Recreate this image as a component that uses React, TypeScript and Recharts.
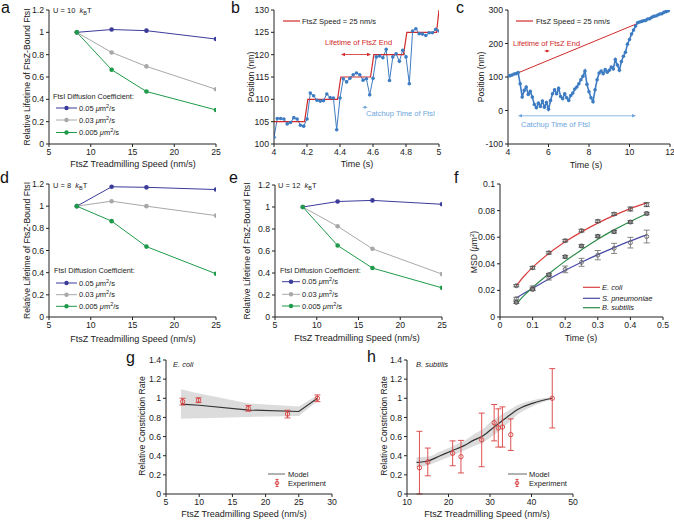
import React from 'react';
import { ComposedChart, Line, Area, Scatter, ErrorBar, XAxis, YAxis } from 'recharts';

// a, d, e: relative lifetime of FtsZ-bound FtsI vs treadmilling speed
const speeds = [8.33, 12.5, 16.67, 25];
const aFast = [1, 1.025, 1.015, 0.94];
const aMid = [1, 0.82, 0.695, 0.49];
const aSlow = [1, 0.665, 0.47, 0.305];
const dFast = [1, 1.175, 1.17, 1.15];
const dMid = [1, 1.045, 1.0, 0.915];
const dSlow = [1, 0.865, 0.635, 0.39];
const eFast = [1, 1.05, 1.06, 1.025];
const eMid = [1, 0.825, 0.62, 0.39];
const eSlow = [1, 0.65, 0.445, 0.265];
const lifeTicksX = [5, 10, 15, 20, 25];
const lifeTicksY = [0, 0.2, 0.4, 0.6, 0.8, 1, 1.2];

// b: FtsI trace vs FtsZ end, 4-5 s
const bTimes = [4.0, 4.02, 4.04, 4.06, 4.08, 4.1, 4.12, 4.14, 4.16, 4.18, 4.2, 4.22, 4.24, 4.26, 4.28, 4.3, 4.32, 4.34, 4.36, 4.38,
  4.4, 4.42, 4.44, 4.46, 4.48, 4.5, 4.52, 4.54, 4.56, 4.58, 4.6, 4.62, 4.64, 4.66, 4.68, 4.7, 4.72, 4.74, 4.76, 4.78,
  4.8, 4.82, 4.84, 4.86, 4.88, 4.9, 4.92, 4.94, 4.96, 4.98, 5.0];
const bPos = [101.5, 105.7, 105.7, 105.6, 104.5, 104.8, 105.9, 105.6, 104.2, 104.0, 105.6, 111.4, 110.8, 109.8, 109.6, 109.7, 111.2, 110.4, 110.3, 103.2,
  110.3, 114.6, 113.9, 114.7, 115.5, 115.9, 115.5, 114.3, 114.6, 111.0, 114.7, 119.5, 119.7, 119.3, 121.2, 114.2, 119.5, 120.2, 118.5, 121.0,
  119.5, 113.5, 125.3, 125.8, 124.7, 124.6, 124.3, 124.9, 124.9, 125.7, 125.3];
const bEndTimes = [4, 4.185, 4.205, 4.385, 4.405, 4.585, 4.605, 4.785, 4.805, 4.985, 5.0];
const bEndPos = [105, 105, 110, 110, 115, 115, 120, 120, 125, 125, 130];

// c: FtsI trace vs FtsZ end, 4-12 s
const cTimes = [4.0, 4.1, 4.2, 4.3, 4.4, 4.5, 4.6, 4.7, 4.8, 4.9, 5.0, 5.1, 5.2, 5.3, 5.4, 5.5, 5.6, 5.7, 5.8, 5.9,
  6.0, 6.1, 6.2, 6.3, 6.4, 6.5, 6.6, 6.7, 6.8, 6.9, 7.0, 7.1, 7.2, 7.3, 7.4, 7.5, 7.6, 7.7, 7.8, 7.9,
  8.0, 8.1, 8.2, 8.3, 8.4, 8.5, 8.6, 8.7, 8.8, 8.9, 9.0, 9.1, 9.2, 9.3, 9.4, 9.5, 9.6, 9.7, 9.8, 9.9,
  10.0, 10.1, 10.2, 10.3, 10.4, 10.5, 10.6, 10.7, 10.8, 10.9, 11.0, 11.1, 11.2, 11.3, 11.4, 11.5, 11.6, 11.7, 11.8, 11.9, 12.0];
const cPos = [102, 104, 106, 109, 110, 113, 80, 40, 60, 70, 48, 57, 40, 18, 8, 22, 12, 28, 10, 24,
  4, 30, 50, 62, 50, 66, 42, 35, 50, 38, 30, 45, 52, 64, 70, 80, 92, 102, 118, 78,
  56, 38, 26, 62, 92, 112, 118, 110, 122, 114, 120, 130, 124, 152, 136, 120, 146, 162, 174, 198,
  212, 228, 240, 252, 262, 264, 266, 268, 269, 273, 274, 278, 281, 282, 285, 288, 289, 293, 295, 297, 300];
const cEndTimes = [4, 12];
const cEndPos = [100, 300];

// f: MSD
const fTimes = [0.05, 0.1, 0.15, 0.2, 0.25, 0.3, 0.35, 0.4, 0.45];
const fEcoli = [0.0235, 0.037, 0.0483, 0.0574, 0.0649, 0.072, 0.0774, 0.0812, 0.0845];
const fEcoliErr = [0.0008, 0.001, 0.001, 0.001, 0.001, 0.001, 0.001, 0.0015, 0.0015];
const fSpn = [0.0138, 0.0218, 0.0296, 0.0358, 0.0411, 0.0465, 0.0516, 0.0559, 0.0605];
const fSpnErr = [0.001, 0.0015, 0.0018, 0.0025, 0.003, 0.0035, 0.0038, 0.004, 0.0048];
const fBsub = [0.011, 0.0208, 0.0318, 0.0453, 0.0534, 0.0607, 0.0641, 0.0714, 0.0778];
const fBsubErr = [0.0008, 0.001, 0.001, 0.001, 0.001, 0.001, 0.001, 0.001, 0.001];
const fFitTimes = [0.05, 0.075, 0.1, 0.15, 0.2, 0.25, 0.3, 0.35, 0.4, 0.45];
const fFitEcoli = [0.0235, 0.031, 0.0373, 0.0478, 0.0565, 0.064, 0.0706, 0.0764, 0.0815, 0.0858];
const fFitSpn = [0.0142, 0.018, 0.0215, 0.0285, 0.0351, 0.0412, 0.0469, 0.0522, 0.0572, 0.0618];
const fFitBsub = [0.0098, 0.0165, 0.0222, 0.0325, 0.042, 0.0505, 0.0585, 0.0655, 0.0718, 0.0776];

// g: E. coli constriction rate
const gModelSpeed = [7.25, 10, 17.5, 25, 27.8];
const gModel = [0.94, 0.927, 0.877, 0.862, 1.0];
const gModelLo = [0.785, 0.792, 0.805, 0.815, 0.968];
const gModelHi = [1.095, 1.05, 0.945, 0.915, 1.032];
const gExpSpeed = [7.5, 9.9, 17.4, 23.3, 27.8];
const gExp = [0.965, 0.98, 0.895, 0.835, 1.0];
const gExpErr = [0.035, 0.025, 0.03, 0.04, 0.035];

// h: B. subtilis constriction rate
const hModelSpeed = [12.3, 15, 18, 21, 23.5, 26, 28, 30.7, 34, 37, 40.4, 45];
const hModel = [0.33, 0.345, 0.4, 0.455, 0.5, 0.56, 0.6, 0.69, 0.8, 0.89, 0.95, 1.0];
const hModelLo = [0.28, 0.3, 0.35, 0.405, 0.45, 0.5, 0.53, 0.61, 0.73, 0.84, 0.92, 0.99];
const hModelHi = [0.385, 0.39, 0.445, 0.5, 0.55, 0.62, 0.67, 0.77, 0.86, 0.935, 0.98, 1.01];
const hExpSpeed = [13, 15, 21, 23, 28, 31, 32, 33, 35, 45];
const hExp = [0.275, 0.335, 0.425, 0.39, 0.565, 0.745, 0.69, 0.7, 0.62, 1.0];
const hExpErrLo = [0.275, 0.145, 0.13, 0.17, 0.28, 0.19, 0.2, 0.21, 0.165, 0.31];
const hExpErrHi = [0.38, 0.145, 0.13, 0.17, 0.28, 0.19, 0.2, 0.21, 0.165, 0.31];
const rateTicksY = [0, 0.2, 0.4, 0.6, 0.8, 1, 1.2, 1.4];

const FONT = "'Liberation Sans', Arial, Helvetica, sans-serif";
const INK = '#222';
const BLUE = '#3b3b9a';
const GRAY = '#a8a8a8';
const GREEN = '#1f9a4a';
const RED = '#d02a2a';
const TRACE = '#3d7cc2';
const LIGHT = '#6ea5dc';
const FRED = '#d94040';
const FBLUE = '#4848a8';
const FGREEN = '#2a8a48';

const YW = 34;
const XH = 24;
const MT = 8;

const axis = {
  axisLine: { stroke: INK, strokeWidth: 1 },
  tickLine: { stroke: INK, strokeWidth: 1 },
  tickSize: 3,
  tick: { fontSize: 8.7, fill: INK },
  interval: 0 as const,
  allowDataOverflow: true,
};

const pts = (xs: number[], ys: number[]) => xs.map((x, i) => ({ x, y: ys[i] }));
const ptsErr = (xs: number[], ys: number[], es: any[]) => xs.map((x, i) => ({ x, y: ys[i], err: es[i] }));

function Panel({ box, data, xDomain, xTicks, yDomain, yTicks, right = 10, children }: any) {
  const [x0, y0, x1, y1] = box;
  const width = x1 - x0 + YW + right;
  const height = y1 - y0 + MT + XH;
  return (
    <div style={{ position: 'absolute', left: x0 - YW, top: y0 - MT }}>
      <ComposedChart width={width} height={height} data={data} margin={{ top: MT, right, left: 0, bottom: 0 }}>
        <XAxis type="number" dataKey="x" domain={xDomain} ticks={xTicks} height={XH} {...axis} />
        <YAxis type="number" domain={yDomain} ticks={yTicks} width={YW} {...axis} />
        {children}
      </ComposedChart>
    </div>
  );
}

function LifetimePanel({ box, fast, mid, slow }: any) {
  const data = speeds.map((x, i) => ({ x, fast: fast[i], mid: mid[i], slow: slow[i] }));
  const line = (key: string, c: string) => (
    <Line key={key} type="linear" dataKey={key} stroke={c} strokeWidth={1}
      dot={{ r: 2.3, fill: c, stroke: c, strokeWidth: 0 }} isAnimationActive={false} />
  );
  return (
    <Panel box={box} data={data} xDomain={[5, 25]} xTicks={lifeTicksX} yDomain={[0, 1.2]} yTicks={lifeTicksY}>
      {line('fast', BLUE)}
      {line('mid', GRAY)}
      {line('slow', GREEN)}
    </Panel>
  );
}

const circleShape = (stroke: string, fill = 'none', r = 2) => (p: any) => (
  <circle cx={p.cx} cy={p.cy} r={r} fill={fill} stroke={stroke} strokeWidth={0.9} />
);

function RatePanel({ box, xDomain, xTicks, mSpeed, model, lo, hi, eSpeed, exp, err, smooth }: any) {
  const data = mSpeed.map((x: number, i: number) => ({ x, y: model[i], band: [lo[i], hi[i]] }));
  return (
    <Panel box={box} data={data} xDomain={xDomain} xTicks={xTicks} yDomain={[0, 1.4]} yTicks={rateTicksY}>
      <Area type={smooth ? 'monotone' : 'linear'} dataKey="band" stroke="none" fill="#dcdcdc" fillOpacity={1} isAnimationActive={false} />
      <Line type={smooth ? 'monotone' : 'linear'} dataKey="y" stroke="#333" strokeWidth={1.2} dot={false} isAnimationActive={false} />
      <Scatter data={ptsErr(eSpeed, exp, err)} dataKey="y" shape={circleShape(FRED, 'none', 2.2)} isAnimationActive={false}>
        <ErrorBar dataKey="err" direction="y" width={3} stroke={FRED} strokeWidth={0.9} />
      </Scatter>
    </Panel>
  );
}

const Mu = ({ v }: { v: string }) => (
  <>
    {v + ' '}<tspan fontStyle="italic">μ</tspan>m<tspan dy={-3} fontSize={5.5}>2</tspan><tspan dy={3}>/s</tspan>
  </>
);

function KeyRows({ x0, x1, ys }: { x0: number; x1: number; ys: number[] }) {
  const rows = [
    { c: BLUE, v: '0.05' },
    { c: GRAY, v: '0.03' },
    { c: GREEN, v: '0.005' },
  ];
  return (
    <g>
      {rows.map((r, i) => (
        <g key={r.v}>
          <line x1={x0} x2={x1} y1={ys[i]} y2={ys[i]} stroke={r.c} strokeWidth={1} />
          <circle cx={(x0 + x1) / 2} cy={ys[i]} r={2.2} fill={r.c} />
          <text x={x1 + 2} y={ys[i] + 2.6} fontSize={7.5} fill={INK}><Mu v={r.v} /></text>
        </g>
      ))}
    </g>
  );
}

const Energy = ({ x, y, u }: { x: number; y: number; u: string }) => (
  <text x={x} y={y} fontSize={7.5} fill={INK} style={{ whiteSpace: 'pre' }}>
    {`U = ${u}  `}<tspan fontStyle="italic">k</tspan><tspan dy={2} fontSize={5.5}>B</tspan><tspan dy={-2}>T</tspan>
  </text>
);

function DArrow({ x0, x1, y, c, h = 1.8 }: any) {
  return (
    <g>
      <line x1={x0 + 2} x2={x1 - 2} y1={y} y2={y} stroke={c} strokeWidth={0.8} />
      <polygon points={`${x0},${y} ${x0 + 4},${y - h} ${x0 + 4},${y + h}`} fill={c} />
      <polygon points={`${x1},${y} ${x1 - 4},${y - h} ${x1 - 4},${y + h}`} fill={c} />
    </g>
  );
}

function YTitle({ x, y, text }: { x: number; y: number; text: React.ReactNode }) {
  return (
    <text x={x} y={y} fontSize={8.6} fill={INK} textAnchor="middle" transform={`rotate(-90 ${x} ${y})`}>{text}</text>
  );
}

function XTitle({ x, y, text }: { x: number; y: number; text: string }) {
  return <text x={x} y={y} fontSize={9} fill={INK} textAnchor="middle">{text}</text>;
}

function Overlay() {
  const life = 'Relative Lifetime of FtsZ-Bound FtsI';
  const speed = 'FtsZ Treadmilling Speed (nm/s)';
  return (
    <svg width={674} height={520} style={{ position: 'absolute', left: 0, top: 0, pointerEvents: 'none' }} fontFamily={FONT}>
      {/* panel letters */}
      <g fontSize={16} fill="#111">
        <text x={1} y={13}>a</text>
        <text x={231} y={13}>b</text>
        <text x={456} y={13}>c</text>
        <text x={0} y={183}>d</text>
        <text x={229} y={183}>e</text>
        <text x={454} y={183}>f</text>
        <text x={126} y={363}>g</text>
        <text x={367} y={362}>h</text>
      </g>

      {/* a */}
      <YTitle x={30} y={77} text={life} />
      <XTitle x={133} y={167} text={speed} />
      <Energy x={53} y={13} u="10" />
      <text x={53} y={99} fontSize={7.3} fill={INK}>FtsI Diffusion Coefficient:</text>
      <KeyRows x0={56} x1={77} ys={[108, 120, 132.5]} />

      {/* b */}
      <YTitle x={253.5} y={77} text="Position (nm)" />
      <XTitle x={357} y={166.5} text="Time (s)" />
      <line x1={283} x2={300} y1={21} y2={21} stroke={RED} strokeWidth={1.2} />
      <text x={302} y={23.6} fontSize={7.5} fill={INK}>FtsZ Speed = 25 nm/s</text>
      <text x={325} y={44.5} fontSize={7.5} fill={RED}>Lifetime of FtsZ End</text>
      <DArrow x0={341} x1={371} y={54.5} c={RED} />
      <DArrow x0={362} x1={368} y={107.3} c={LIGHT} h={1.2} />
      <text x={366} y={115.8} fontSize={7.5} fill={LIGHT}>Catchup Time of FtsI</text>

      {/* c */}
      <YTitle x={484} y={77} text="Position (nm)" />
      <XTitle x={586} y={167.5} text="Time (s)" />
      <line x1={516} x2={533} y1={21} y2={21} stroke={RED} strokeWidth={1.2} />
      <text x={536} y={23.6} fontSize={7.5} fill={INK}>FtsZ Speed = 25 nm/s</text>
      <text x={513} y={45.5} fontSize={7.5} fill={RED}>Lifetime of FtsZ End</text>
      <DArrow x0={544} x1={550} y={51} c={RED} h={1.2} />
      <DArrow x0={518} x1={636} y={115.8} c={LIGHT} />
      <text x={521} y={127} fontSize={7.5} fill={LIGHT}>Catchup Time of FtsI</text>

      {/* d */}
      <YTitle x={30} y={250.5} text={life} />
      <XTitle x={133} y={341.5} text={speed} />
      <Energy x={53} y={187.5} u="8" />
      <text x={54} y={272.5} fontSize={7.3} fill={INK}>FtsI Diffusion Coefficient:</text>
      <KeyRows x0={56} x1={77} ys={[283, 294.7, 306.3]} />

      {/* e */}
      <YTitle x={250} y={251} text={life} />
      <XTitle x={357} y={340.5} text={speed} />
      <Energy x={278} y={187.5} u="12" />
      <text x={280} y={272.5} fontSize={7.3} fill={INK}>FtsI Diffusion Coefficient:</text>
      <KeyRows x0={282} x1={300} ys={[281.7, 294.3, 306]} />

      {/* f */}
      <YTitle x={477} y={252} text={<>MSD (<tspan fontStyle="italic">μ</tspan>m<tspan dy={-3} fontSize={6}>2</tspan><tspan dy={3}>)</tspan></>} />
      <XTitle x={581} y={340.5} text="Time (s)" />
      {[
        { c: FRED, t: 'E. coli', y: 287.3 },
        { c: FBLUE, t: 'S. pneumoniae', y: 298.3 },
        { c: FGREEN, t: 'B. subtilis', y: 307.7 },
      ].map((r) => (
        <g key={r.t}>
          <line x1={583} x2={600} y1={r.y} y2={r.y} stroke={r.c} strokeWidth={1.2} />
          <text x={602} y={r.y + 2.6} fontSize={7.5} fontStyle="italic" fill={INK}>{r.t}</text>
        </g>
      ))}

      {/* g */}
      <YTitle x={145} y={426} text="Relative Constriction Rate" />
      <XTitle x={244} y={517} text={speed} />
      <text x={173} y={367} fontSize={7.5} fontStyle="italic" fill={INK}>E. coli</text>
      <line x1={268} x2={285} y1={474} y2={474} stroke="#999" strokeWidth={1.5} />
      <text x={288} y={476.6} fontSize={7.5} fill={INK}>Model</text>
      <line x1={277} x2={277} y1={479.5} y2={486.5} stroke={FRED} strokeWidth={0.9} />
      <line x1={275.5} x2={278.5} y1={479.5} y2={479.5} stroke={FRED} strokeWidth={0.9} />
      <line x1={275.5} x2={278.5} y1={486.5} y2={486.5} stroke={FRED} strokeWidth={0.9} />
      <circle cx={277} cy={483} r={1.8} fill="none" stroke={FRED} strokeWidth={0.9} />
      <text x={288} y={485.8} fontSize={7.5} fill={INK}>Experiment</text>

      {/* h */}
      <YTitle x={387} y={426} text="Relative Constriction Rate" />
      <XTitle x={487} y={517} text={speed} />
      <text x={416} y={367} fontSize={7.5} fontStyle="italic" fill={INK}>B. subtilis</text>
      <line x1={508} x2={527} y1={474} y2={474} stroke="#999" strokeWidth={1.5} />
      <text x={529} y={476.6} fontSize={7.5} fill={INK}>Model</text>
      <line x1={517} x2={517} y1={479.5} y2={486.5} stroke={FRED} strokeWidth={0.9} />
      <line x1={515.5} x2={518.5} y1={479.5} y2={479.5} stroke={FRED} strokeWidth={0.9} />
      <line x1={515.5} x2={518.5} y1={486.5} y2={486.5} stroke={FRED} strokeWidth={0.9} />
      <circle cx={517} cy={483} r={1.8} fill="none" stroke={FRED} strokeWidth={0.9} />
      <text x={529} y={485.8} fontSize={7.5} fill={INK}>Experiment</text>
    </svg>
  );
}

export default function App() {
  return (
    <div style={{ position: 'absolute', left: 0, top: 0, width: 674, height: 520, background: '#fff', fontFamily: FONT, overflow: 'hidden' }}>
      <LifetimePanel box={[49, 10, 216, 144]} fast={aFast} mid={aMid} slow={aSlow} />
      <LifetimePanel box={[49, 184, 216, 317]} fast={dFast} mid={dMid} slow={dSlow} />
      <LifetimePanel box={[275, 185, 442, 317]} fast={eFast} mid={eMid} slow={eSlow} />

      <Panel box={[274, 10, 439, 144]} xDomain={[4, 5]} xTicks={[4, 4.2, 4.4, 4.6, 4.8, 5]}
        yDomain={[100, 130]} yTicks={[100, 105, 110, 115, 120, 125, 130]}>
        <Line data={pts(bTimes, bPos)} dataKey="y" type="linear" stroke={TRACE} strokeWidth={1}
          dot={{ r: 1.8, fill: TRACE, stroke: TRACE, strokeWidth: 0 }} isAnimationActive={false} />
        <Line data={pts(bEndTimes, bEndPos)} dataKey="y" type="linear" stroke={RED} strokeWidth={1.2} dot={false} isAnimationActive={false} />
      </Panel>

      <Panel box={[508, 10, 670, 144]} right={4} xDomain={[4, 12]} xTicks={[4, 6, 8, 10, 12]}
        yDomain={[-100, 300]} yTicks={[-100, 0, 100, 200, 300]}>
        <Line data={pts(cTimes, cPos)} dataKey="y" type="linear" stroke={TRACE} strokeWidth={1.6}
          dot={{ r: 1.8, fill: TRACE, stroke: TRACE, strokeWidth: 0 }} isAnimationActive={false} />
        <Line data={pts(cEndTimes, cEndPos)} dataKey="y" type="linear" stroke={RED} strokeWidth={1} dot={false} isAnimationActive={false} />
      </Panel>

      <Panel box={[500, 184, 663, 317]} xDomain={[0, 0.5]} xTicks={[0, 0.1, 0.2, 0.3, 0.4, 0.5]}
        yDomain={[0, 0.1]} yTicks={[0, 0.02, 0.04, 0.06, 0.08, 0.1]}>
        <Line data={pts(fFitTimes, fFitEcoli)} dataKey="y" type="monotone" stroke={FRED} strokeWidth={1.2} dot={false} isAnimationActive={false} />
        <Line data={pts(fFitTimes, fFitSpn)} dataKey="y" type="monotone" stroke={FBLUE} strokeWidth={1.2} dot={false} isAnimationActive={false} />
        <Line data={pts(fFitTimes, fFitBsub)} dataKey="y" type="monotone" stroke={FGREEN} strokeWidth={1.2} dot={false} isAnimationActive={false} />
        <Scatter data={ptsErr(fTimes, fSpn, fSpnErr)} dataKey="y" shape={circleShape('#666')} isAnimationActive={false}>
          <ErrorBar dataKey="err" direction="y" width={3} stroke="#777" strokeWidth={0.9} />
        </Scatter>
        <Scatter data={ptsErr(fTimes, fBsub, fBsubErr)} dataKey="y" shape={circleShape('#444', '#8a8a8a')} isAnimationActive={false}>
          <ErrorBar dataKey="err" direction="y" width={3} stroke="#555" strokeWidth={0.9} />
        </Scatter>
        <Scatter data={ptsErr(fTimes, fEcoli, fEcoliErr)} dataKey="y" shape={circleShape('#555')} isAnimationActive={false}>
          <ErrorBar dataKey="err" direction="y" width={3} stroke="#555" strokeWidth={0.9} />
        </Scatter>
      </Panel>

      <RatePanel box={[166, 360, 332, 494]} xDomain={[5, 30]} xTicks={[5, 10, 15, 20, 25, 30]}
        mSpeed={gModelSpeed} model={gModel} lo={gModelLo} hi={gModelHi}
        eSpeed={gExpSpeed} exp={gExp} err={gExpErr} smooth={false} />
      <RatePanel box={[407, 360, 573, 494]} xDomain={[10, 50]} xTicks={[10, 20, 30, 40, 50]}
        mSpeed={hModelSpeed} model={hModel} lo={hModelLo} hi={hModelHi}
        eSpeed={hExpSpeed} exp={hExp} err={hExpSpeed.map((_, i) => [hExpErrLo[i], hExpErrHi[i]])} smooth />

      <Overlay />
    </div>
  );
}
